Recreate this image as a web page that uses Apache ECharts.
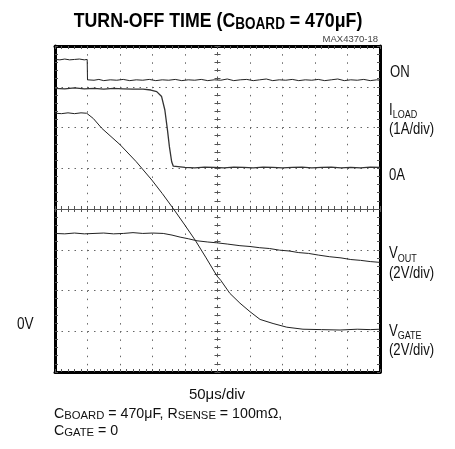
<!DOCTYPE html>
<html>
<head>
<meta charset="utf-8">
<script src="https://cdn.jsdelivr.net/npm/echarts@6/dist/echarts.min.js"></script>
<style>
html,body{margin:0;padding:0;background:#fff;}
#c{width:455px;height:449px;}
</style>
</head>
<body>
<div id="c"></div>
<script>
// Scope screen: 10 horizontal divisions x 8 vertical divisions
var xDivs = [0, 10];
var yDivs = [0, 8];

// ON (logic) trace  [div, div]
var onTrace = [[0,7.67],[0.15,7.66],[0.3,7.68],[0.45,7.66],[0.6,7.67],[0.75,7.68],[0.9,7.66],[0.99,7.67],[1.0,7.17],
  [1.2,7.16],[1.35,7.18],[1.5,7.15],[1.7,7.17],[1.9,7.16],[2.1,7.18],[2.3,7.15],[2.5,7.17],[2.7,7.16],[2.9,7.18],
  [3.1,7.15],[3.3,7.17],[3.5,7.16],[3.7,7.18],[3.9,7.15],[4.1,7.17],[4.3,7.16],[4.5,7.18],[4.7,7.15],[4.9,7.17],
  [5.1,7.16],[5.3,7.19],[5.5,7.15],[5.7,7.17],[5.9,7.18],[6.1,7.15],[6.3,7.17],[6.5,7.19],[6.7,7.15],[6.9,7.17],
  [7.1,7.16],[7.3,7.18],[7.5,7.15],[7.7,7.17],[7.9,7.16],[8.1,7.18],[8.3,7.15],[8.5,7.17],[8.7,7.19],[8.9,7.15],
  [9.1,7.17],[9.3,7.16],[9.5,7.18],[9.7,7.15],[9.9,7.17],[10,7.16]];

// I_LOAD trace (1A/div, 0A at div 5)
var iLoad = [[0,6.96],[0.3,6.95],[0.6,6.97],[0.9,6.95],[1.2,6.96],[1.5,6.94],[1.8,6.96],[2.1,6.95],[2.4,6.94],
  [2.71,6.94],[2.95,6.92],[3.13,6.88],[3.28,6.76],[3.38,6.43],[3.46,5.94],[3.52,5.53],[3.59,5.16],[3.64,5.05],
  [3.69,5.02],[4.0,5.02],[4.3,5.01],[4.6,5.03],[4.9,5.02],[5.2,5.01],[5.5,5.03],[5.8,5.02],[6.1,5.01],
  [6.4,5.03],[6.7,5.02],[7.0,5.01],[7.3,5.02],[7.6,5.03],[7.9,5.01],[8.2,5.02],[8.5,5.03],[8.8,5.01],
  [9.1,5.02],[9.4,5.01],[9.7,5.03],[10,5.02]];

// V_OUT trace (2V/div)
var vOut = [[0,3.40],[0.3,3.39],[0.6,3.41],[0.9,3.39],[1.2,3.40],[1.5,3.41],[1.8,3.39],[2.1,3.40],[2.4,3.42],
  [2.7,3.40],[3.0,3.41],[3.33,3.40],[3.6,3.36],[3.85,3.31],[4.1,3.27],[4.37,3.22],[4.7,3.19],[4.98,3.17],
  [5.3,3.14],[5.69,3.10],[6.0,3.08],[6.3,3.05],[6.6,3.03],[6.91,2.99],[7.2,2.97],[7.5,2.93],[7.8,2.91],
  [8.1,2.87],[8.44,2.83],[8.8,2.80],[9.1,2.76],[9.4,2.74],[9.7,2.71],[10,2.69]];

// V_GATE trace (2V/div, 0V at div 1)
var vGate = [[0,6.35],[0.2,6.34],[0.4,6.36],[0.6,6.34],[0.8,6.36],[0.975,6.35],[1.18,6.22],[1.44,5.98],
  [2.0,5.58],[2.5,5.16],[2.98,4.71],[3.3,4.38],[3.63,4.02],[4.0,3.60],[4.31,3.24],[4.65,2.80],[4.98,2.36],
  [5.1,2.25],[5.38,1.93],[5.69,1.69],[6.0,1.48],[6.31,1.29],[6.71,1.19],[7.13,1.10],[7.63,1.05],
  [8.2,1.04],[8.77,1.03],[9.3,1.05],[9.7,1.04],[10,1.05]];

var SANS = '"Liberation Sans",Arial,"Helvetica",sans-serif';

function edgeAxis(pos, isX, split, dash) {
  return {
    type: 'value', position: pos,
    min: isX ? xDivs[0] : yDivs[0], max: isX ? xDivs[1] : yDivs[1], interval: 1,
    axisLine: {show: true, onZero: false, lineStyle: {color: '#000', width: 3}},
    axisTick: {show: true, inside: true, length: 3, lineStyle: {color: '#555', width: 1}},
    minorTick: {show: true, splitNumber: 5, length: 3, lineStyle: {color: '#555', width: 1}},
    axisLabel: {show: false},
    splitLine: {show: split, lineStyle: {color: '#666', width: 1, type: dash}}
  };
}
function centerAxis(pos, isX, inside, offset, lineType) {
  return {
    type: 'value', position: pos, offset: offset,
    min: isX ? xDivs[0] : yDivs[0], max: isX ? xDivs[1] : yDivs[1], interval: 1,
    axisLine: {show: true, onZero: false, lineStyle: {color: '#555', width: 1, type: lineType}},
    axisTick: {show: true, inside: inside, length: 3, lineStyle: {color: '#555', width: 1}},
    minorTick: {show: true, splitNumber: 5, length: 3, lineStyle: {color: '#555', width: 1}},
    axisLabel: {show: false},
    splitLine: {show: false}
  };
}

function traceSeries(name, data, color, width) {
  return {
    name: name, type: 'line', data: data, xAxisIndex: 0, yAxisIndex: 0,
    showSymbol: false, symbol: 'none', smooth: false, silent: true, z: 5,
    lineStyle: {color: color, width: width}
  };
}

function richLabel(x, y, text, main, sub, lh, sx, align) {
  return {
    type: 'text', x: x, y: y, scaleX: sx,
    style: {
      text: text, align: align || 'left', verticalAlign: 'middle',
      rich: {
        a: {fontFamily: SANS, fontSize: main, lineHeight: lh, fill: '#111', verticalAlign: 'middle'},
        b: {fontFamily: SANS, fontSize: sub, fill: '#111', verticalAlign: 'bottom'}
      }
    }
  };
}
function plainLabel(x, y, text, size, sx, align) {
  return {
    type: 'text', x: x, y: y, scaleX: sx,
    style: {text: text, fontFamily: SANS, fontSize: size, fill: '#111', align: align || 'left', verticalAlign: 'middle'}
  };
}

var chart = echarts.init(document.getElementById('c'), null, {renderer: 'canvas'});
chart.setOption({
  animation: false,
  backgroundColor: '#fff',
  grid: {left: 55, top: 46, width: 325, height: 326, containLabel: false},
  xAxis: [
    edgeAxis('bottom', true, true, [1.5, 6.65]),
    edgeAxis('top', true, false, 'solid'),
    centerAxis('bottom', true, true, -163, 'solid'),
    centerAxis('bottom', true, false, -163, 'solid')
  ],
  yAxis: [
    edgeAxis('left', false, true, [1.5, 5]),
    edgeAxis('right', false, false, 'solid'),
    centerAxis('left', false, true, -162.5, [1.5, 6.65]),
    centerAxis('left', false, false, -162.5, [1.5, 6.65])
  ],
  series: [
    traceSeries('ON', onTrace, '#222', 1),
    traceSeries('ILOAD', iLoad, '#333', 1.3),
    traceSeries('VOUT', vOut, '#222', 1),
    traceSeries('VGATE', vGate, '#222', 1)
  ],
  graphic: [
    {type: 'text', x: 218, y: 21, scaleX: 0.845,
      style: {
        text: '{a|TURN-OFF TIME (C}{b|BOARD}{a| = 470μF)}',
        align: 'center', verticalAlign: 'middle',
        rich: {
          a: {fontFamily: SANS, fontWeight: 'bold', fontSize: 21, lineHeight: 24, fill: '#000', verticalAlign: 'middle'},
          b: {fontFamily: SANS, fontWeight: 'bold', fontSize: 16, fill: '#000', verticalAlign: 'bottom'}
        }
      }},
    {type: 'text', x: 378, y: 39,
      style: {text: 'MAX4370-18', fontFamily: SANS, fontSize: 9.5, fill: '#444', align: 'right', verticalAlign: 'middle'}},
    plainLabel(390, 73, 'ON', 16, 0.82),
    richLabel(389, 120, '{a|I}{b|LOAD}\n{a|(1A/div)}', 16, 11, 19, 0.82),
    plainLabel(389, 176, '0A', 16, 0.82),
    richLabel(389, 264, '{a|V}{b|OUT}\n{a|(2V/div)}', 16, 11, 20, 0.82),
    richLabel(389, 341, '{a|V}{b|GATE}\n{a|(2V/div)}', 16, 11, 19, 0.82),
    plainLabel(17, 325, '0V', 16, 0.85),
    plainLabel(217, 395, '50μs/div', 15, 1, 'center'),
    richLabel(54, 422, '{a|C}{b|BOARD}{a| = 470μF, R}{b|SENSE}{a| = 100mΩ,}\n{a|C}{b|GATE}{a| = 0}', 14.5, 11.5, 17, 0.98)
  ]
});
</script>
</body>
</html>
